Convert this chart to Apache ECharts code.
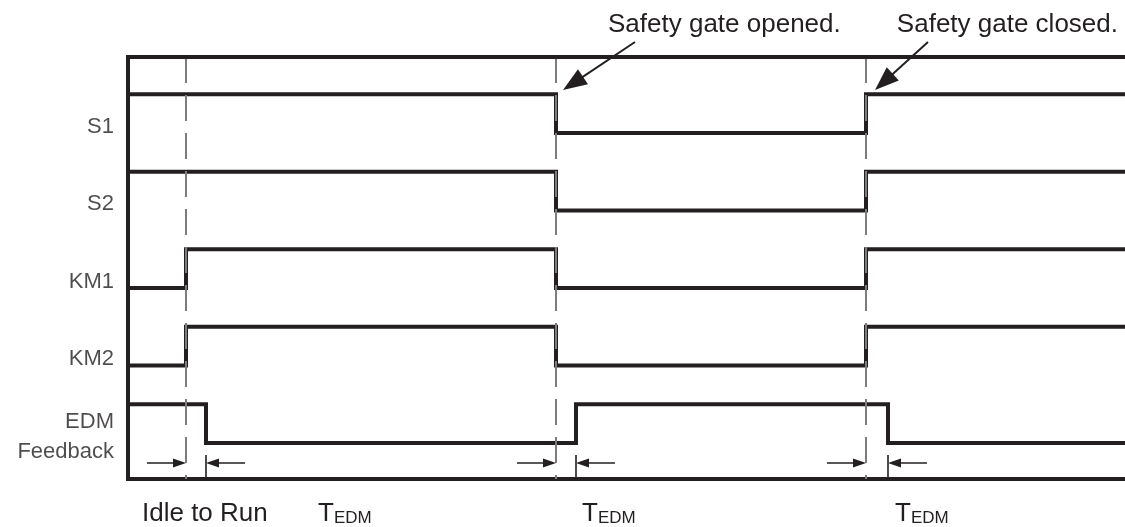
<!DOCTYPE html>
<html>
<head>
<meta charset="utf-8">
<script src="https://cdn.jsdelivr.net/npm/echarts@6/dist/echarts.min.js"></script>
<style>
html,body{margin:0;padding:0;background:#fff;}
#c{width:1125px;height:527px;}
</style>
</head>
<body>
<div id="c"></div>
<script>
// ---- data (time in arbitrary units, levels 0/1) ----
const signalNames = ['S1', 'S2', 'KM1', 'KM2', 'EDM\nFeedback'];
const laneIndex = [4, 3, 2, 1, 0];
const eventTimes = [5.8, 42.8, 73.8];          // idle->run, gate opened, gate closed
const edmDelays = [2.0, 2.0, 2.2];             // T_EDM after each event
const tEnd = 99.7;
const S1 = [[0, 1], [42.8, 0], [73.8, 1]];
const S2 = [[0, 1], [42.8, 0], [73.8, 1]];
const KM1 = [[0, 0], [5.8, 1], [42.8, 0], [73.8, 1]];
const KM2 = [[0, 0], [5.8, 1], [42.8, 0], [73.8, 1]];
const EDM = [[0, 1], [7.8, 0], [44.8, 1], [76.0, 0]];
const bottomLabels = ['Idle to Run', 'T_EDM', 'T_EDM', 'T_EDM'];
const topNotes = ['Safety gate opened.', 'Safety gate closed.'];
const gateArrowFrom = [[50.7, 5.174], [80.0, 5.174]];
const gateArrowTo = [[43.5, 4.555], [74.7, 4.555]];

// ---- layout ----
const ink = '#231f20';
const frameTop = 4.9806;
const yMin = -0.4645, yMax = 5.716;
const amp = 0.5;
const gridL = 128, gridT = 0, gridB = 48, W = 1125, H = 527;
const kx = (W - gridL) / tEnd;
const ky = (H - gridT - gridB) / (yMax - yMin);
const arrowLen = 3.9, arrowY = -0.258, tickTop = -0.155;

function stepData(trace, lane) {
  const d = trace.map(p => [p[0], lane + p[1] * amp]);
  d.push([tEnd, d[d.length - 1][1]]);
  return d;
}
const traces = [S1, S2, KM1, KM2, EDM];
const traceSeries = traces.map((tr, i) => ({
  type: 'line', name: signalNames[i], step: 'end', data: stepData(tr, laneIndex[i]),
  showSymbol: false, symbol: 'none', z: 3, silent: true,
  lineStyle: { color: ink, width: 4, join: 'miter', cap: 'butt' }
}));

const smallHead = [9, 13];
const mlData = [];
eventTimes.forEach((t, i) => {
  const te = t + edmDelays[i];
  const sh = smallHead[1] / 2 / kx;
  mlData.push([{ coord: [t - arrowLen, arrowY], symbol: 'none' },
               { coord: [t - sh, arrowY], symbol: 'triangle', symbolSize: smallHead }]);
  mlData.push([{ coord: [te + arrowLen, arrowY], symbol: 'none' },
               { coord: [te + sh, arrowY], symbol: 'triangle', symbolSize: smallHead }]);
  mlData.push([{ coord: [te, yMin], symbol: 'none' }, { coord: [te, tickTop], symbol: 'none' }]);
});
const bigHead = [18, 24];
gateArrowFrom.forEach((f, i) => {
  const to = gateArrowTo[i];
  const dx = (to[0] - f[0]) * kx, dy = (to[1] - f[1]) * ky;
  const L = Math.hypot(dx, dy);
  const s = bigHead[1] / 2;
  const end = [to[0] - dx / L * s / kx, to[1] - dy / L * s / ky];
  mlData.push([{ coord: f, symbol: 'none', lineStyle: { width: 2 } },
               { coord: end, symbol: 'triangle', symbolSize: bigHead }]);
});

const option = {
  animation: false,
  backgroundColor: '#ffffff',
  grid: { left: gridL, right: 0, top: gridT, bottom: gridB, containLabel: false },
  xAxis: {
    type: 'value', min: 0, max: tEnd, position: 'bottom',
    axisLine: { show: true, onZero: false, lineStyle: { color: ink, width: 4 } },
    axisTick: { show: false }, axisLabel: { show: false }, splitLine: { show: false }
  },
  yAxis: {
    type: 'value', min: yMin, max: yMax,
    axisLine: { show: false },
    axisTick: { show: false }, axisLabel: { show: false }, splitLine: { show: false }
  },
  series: [
    {
      type: 'line', data: [], z: 1, silent: true, clip: false,
      markLine: {
        silent: true, symbol: 'none', animation: false,
        label: { show: false },
        lineStyle: { color: '#7d7d7d', width: 2, type: [26, 12] },
        data: eventTimes.map(t => [{ coord: [t, frameTop] }, { coord: [t, yMin] }])
      }
    },
    {
      type: 'line', data: [], z: 2, silent: true, clip: false,
      markLine: {
        silent: true, symbol: 'none', animation: false,
        label: { show: false },
        lineStyle: { color: ink, width: 4, type: 'solid', cap: 'square' },
        data: [
          [{ coord: [0, frameTop] }, { coord: [tEnd, frameTop] }],
          [{ coord: [0, frameTop] }, { coord: [0, yMin] }]
        ]
      }
    },
    ...traceSeries,
    {
      type: 'scatter', z: 5, silent: true, symbolSize: 0, clip: false,
      data: signalNames.map((n, i) => ({ name: n, value: [0, laneIndex[i] + 0.08] })),
      label: {
        show: true, position: 'left', distance: 14, formatter: p => p.name,
        color: ink, fontFamily: 'Liberation Sans, Arial, sans-serif', fontSize: 22,
        lineHeight: 30, align: 'right'
      }
    },
    {
      type: 'line', data: [], z: 4, clip: false, silent: true,
      markLine: {
        silent: true, animation: false, label: { show: false },
        symbol: 'none',
        lineStyle: { color: ink, width: 1.6, type: 'solid' },
        itemStyle: { color: ink },
        data: mlData
      }
    }
  ],
  graphic: [
    { type: 'text', x: 608, y: 25, style: { text: topNotes[0], fill: ink, font: '26px "Liberation Sans", Arial, sans-serif', verticalAlign: 'middle', align: 'left' } },
    { type: 'text', x: 1118, y: 25, style: { text: topNotes[1], fill: ink, font: '26px "Liberation Sans", Arial, sans-serif', verticalAlign: 'middle', align: 'right' } },
    { type: 'text', x: 142, y: 514, style: { text: bottomLabels[0], fill: ink, font: '26px "Liberation Sans", Arial, sans-serif', verticalAlign: 'middle', align: 'left' } },
    ...[318, 582, 895].map((x, i) => ({
      type: 'text', x: x, y: 514,
      style: {
        text: '{t|T}{s|EDM}', fill: ink, verticalAlign: 'middle', align: 'left',
        rich: {
          t: { fontSize: 26, fontFamily: 'Liberation Sans, Arial, sans-serif', lineHeight: 26, verticalAlign: 'bottom', fill: ink },
          s: { fontSize: 17, fontFamily: 'Liberation Sans, Arial, sans-serif', lineHeight: 12, verticalAlign: 'bottom', fill: ink }
        }
      }
    }))
  ]
};

const chart = echarts.init(document.getElementById('c'), null, { renderer: 'canvas' });
chart.setOption(option);
</script>
</body>
</html>
